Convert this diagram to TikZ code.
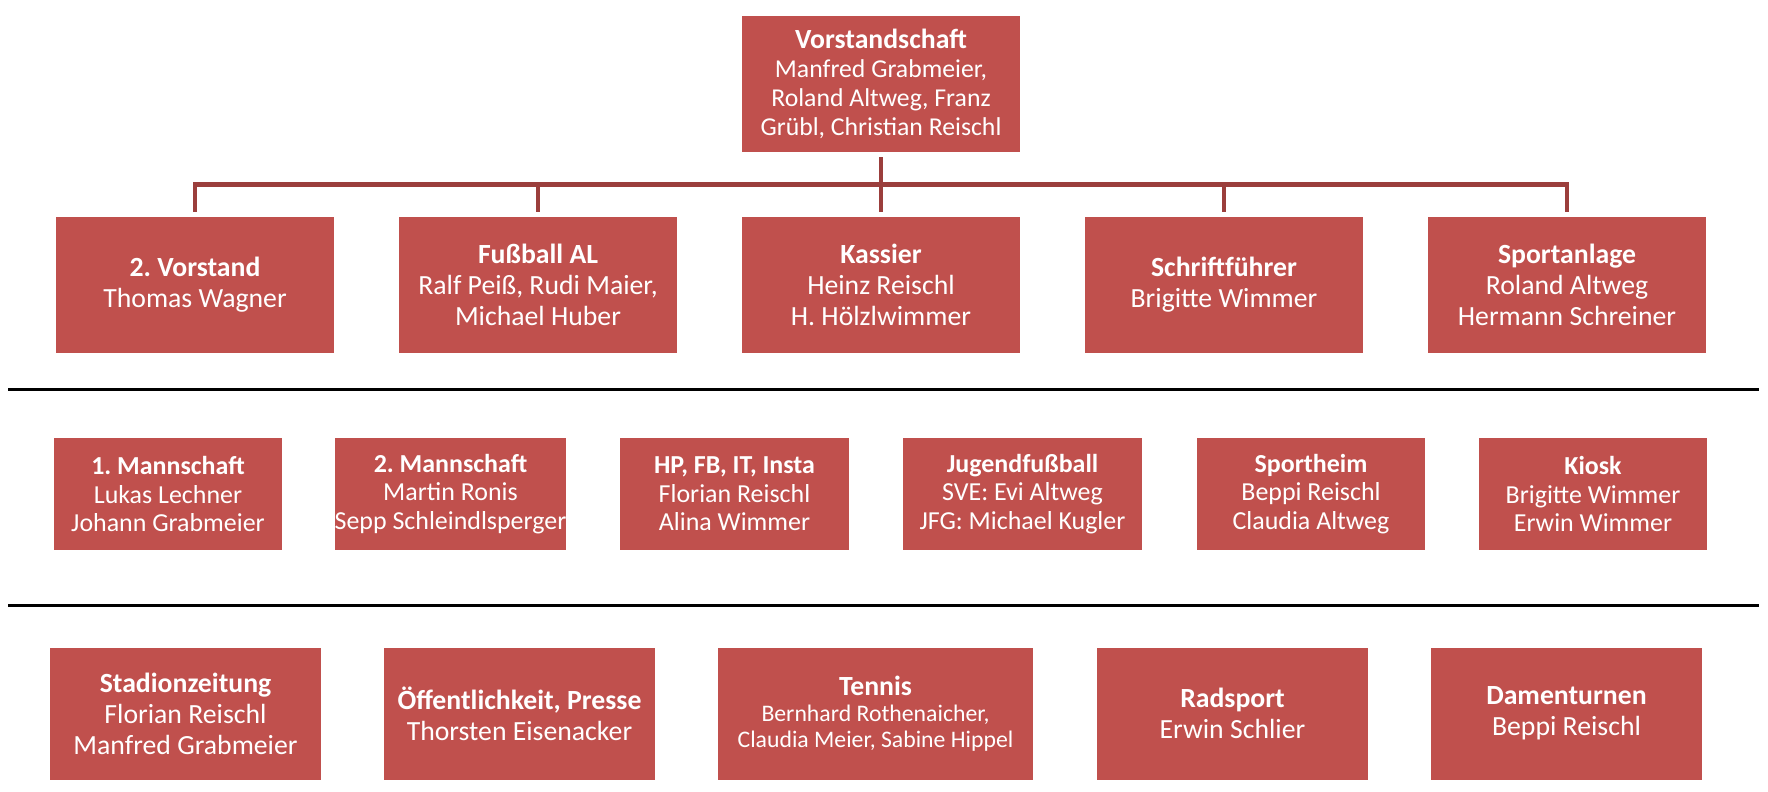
\documentclass[tikz,border=0pt]{standalone}
\usepackage{fontspec}
\setmainfont{Carlito}
\frenchspacing
\definecolor{boxred}{HTML}{C0504D}
\definecolor{connred}{HTML}{9B3E3C}
\tikzset{
  orgbox/.style={fill=boxred, text=white, align=center, inner sep=0pt, outer sep=0pt},
  topfont/.style={font=\fontsize{19.3}{21.6}\selectfont},
  bigfont/.style={font=\fontsize{20.8}{23.3}\selectfont},
  midfont/.style={font=\fontsize{19.45}{21.4}\selectfont},
  smallfont/.style={font=\fontsize{17.8}{19.4}\selectfont},
  rowa/.style={orgbox, bigfont, minimum width=278*0.75pt, minimum height=136*0.75pt},
  rowb/.style={orgbox, midfont, minimum height=112*0.75pt},
  rowc/.style={orgbox, bigfont, minimum height=132*0.75pt},
  conn/.style={draw=connred, line width=3.4pt, line join=miter},
  sepline/.style={draw=black, line width=2.6pt}
}
\begin{document}
\begin{tikzpicture}[x=0.75pt, y=-0.75pt]
\useasboundingbox[fill=white] (0,0) rectangle (1768,792);
% top
\node[orgbox, topfont, minimum width=278*0.75pt, minimum height=136*0.75pt] (top) at (881,84)
  {{\fontsize{20.8}{21.6}\selectfont\textbf{Vorstandschaft}}\\Manfred Grabmeier,\\Roland Altweg, Franz\\Grübl, Christian Reischl};
% row 1
\node[rowa] (a1) at (195,285) {\textbf{2. Vorstand}\\Thomas Wagner};
\node[rowa] (a2) at (538,285) {\textbf{Fußball AL}\\Ralf Peiß, Rudi Maier,\\Michael Huber};
\node[rowa] (a3) at (881,285) {\textbf{Kassier}\\Heinz Reischl\\H. Hölzlwimmer};
\node[rowa] (a4) at (1224,285) {\textbf{Schriftführer}\\Brigitte Wimmer};
\node[rowa] (a5) at (1567,285) {\textbf{Sportanlage}\\Roland Altweg\\Hermann Schreiner};
% connectors
\coordinate (bus) at (881,184.3);
\draw[conn, shorten <=5*0.75pt, shorten >=5*0.75pt] (top.south) -- (a3.north);
\draw[conn] (a1.north |- bus) -- (a5.north |- bus);
\draw[conn, shorten >=5*0.75pt] (a1.north |- bus) ++(0,-2.2) -- (a1.north);
\draw[conn, shorten >=5*0.75pt] (a5.north |- bus) ++(0,-2.2) -- (a5.north);
\draw[conn, shorten >=5*0.75pt] (a2.north |- bus) -- (a2.north);
\draw[conn, shorten >=5*0.75pt] (a4.north |- bus) -- (a4.north);
% separator lines
\coordinate (s1l) at (8,389.6);
\coordinate (s1r) at (1759,389.6);
\coordinate (s2l) at (8,605.6);
\coordinate (s2r) at (1759,605.6);
\draw[sepline] (s1l) -- (s1r);
\draw[sepline] (s2l) -- (s2r);
% row 2
\node[rowb, minimum width=228*0.75pt] (b1) at (168,494) {\textbf{1. Mannschaft}\\Lukas Lechner\\Johann Grabmeier};
\node[rowb, minimum width=227*0.75pt] (b2) at (450.5,494) {\textbf{2. Mannschaft}\\Martin Ronis\\Sepp Schleindlsperger};
\node[rowb, minimum width=229*0.75pt] (b3) at (734.5,494) {\textbf{HP, FB, IT, Insta}\\Florian Reischl\\Alina Wimmer};
\node[rowb, minimum width=239*0.75pt] (b4) at (1022.5,494) {\textbf{Jugendfußball}\\SVE: Evi Altweg\\JFG: Michael Kugler};
\node[rowb, minimum width=228*0.75pt] (b5) at (1311,494) {\textbf{Sportheim}\\Beppi Reischl\\Claudia Altweg};
\node[rowb, minimum width=228*0.75pt] (b6) at (1593,494) {\textbf{Kiosk}\\Brigitte Wimmer\\Erwin Wimmer};
% row 3
\node[rowc, minimum width=271*0.75pt] (c1) at (185.5,713.5) {\textbf{Stadionzeitung}\\Florian Reischl\\Manfred Grabmeier};
\node[rowc, minimum width=271*0.75pt] (c2) at (519.5,713.5) {\textbf{Öffentlichkeit, Presse}\\Thorsten Eisenacker};
\node[rowc, smallfont, minimum width=315*0.75pt] (c3) at (875.5,713.5) {{\fontsize{20.8}{20}\selectfont\textbf{Tennis}}\\Bernhard Rothenaicher,\\Claudia Meier, Sabine Hippel};
\node[rowc, minimum width=271*0.75pt] (c4) at (1232.5,713.5) {\textbf{Radsport}\\Erwin Schlier};
\node[rowc, minimum width=271*0.75pt] (c5) at (1566.5,713.5) {\textbf{Damenturnen}\\Beppi Reischl};
\end{tikzpicture}
\end{document}
